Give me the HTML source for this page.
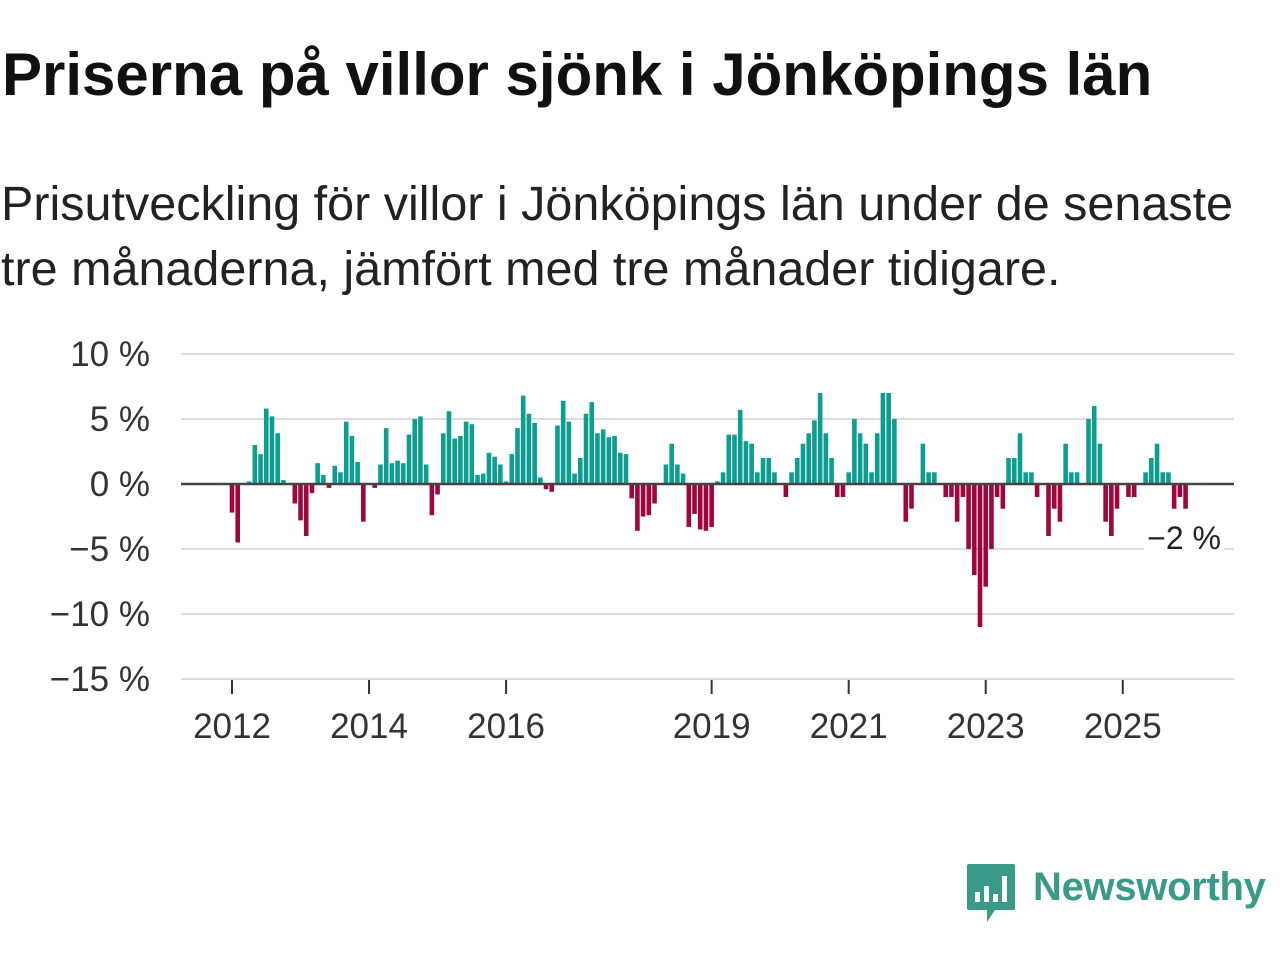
<!DOCTYPE html>
<html><head><meta charset="utf-8">
<style>
body{margin:0;background:#fff;width:1280px;height:960px;overflow:hidden;font-family:"Liberation Sans",sans-serif;}
#title{position:absolute;left:2px;top:40px;font-size:60px;font-weight:bold;color:#111;white-space:nowrap;}
#sub{position:absolute;left:1px;top:172px;font-size:48.5px;line-height:65px;color:#222;white-space:nowrap;}
#logo{position:absolute;left:965px;top:862px;}
#logotext{position:absolute;left:1033px;top:865px;font-size:40px;color:#3a9a88;font-weight:bold;letter-spacing:-0.3px}
</style></head><body>
<div id="title">Priserna på villor sjönk i Jönköpings län</div>
<div id="sub">Prisutveckling för villor i Jönköpings län under de senaste<br>tre månaderna, jämfört med tre månader tidigare.</div>
<svg id="chart" width="1280" height="960" style="position:absolute;left:0;top:0"></svg>
<svg id="logo" width="52" height="64" viewBox="0 0 52 64">
<path d="M2 4 Q2 2 4 2 H48 Q50 2 50 4 V46 Q50 48 48 48 H30 L22 60 V48 H4 Q2 48 2 46Z" fill="#3a9a88"/>
<rect x="10" y="30" width="5" height="10" fill="#fff"/><rect x="19" y="24" width="5" height="16" fill="#fff"/><rect x="28" y="32" width="5" height="8" fill="#fff"/><rect x="37" y="14" width="5" height="26" fill="#fff"/>
</svg>
<div id="logotext">Newsworthy</div>
<script>
const startYear = 2012;
const values = [-2.2,-4.5,0,0.2,3.0,2.3,5.8,5.2,3.9,0.3,0,-1.5,
-2.8,-4.0,-0.7,1.6,0.7,-0.3,1.4,0.9,4.8,3.7,1.7,-2.9,
0,-0.3,1.5,4.3,1.6,1.8,1.6,3.8,5.0,5.2,1.5,-2.4,
-0.8,3.9,5.6,3.5,3.7,4.8,4.6,0.7,0.8,2.4,2.1,1.5,
0.2,2.3,4.3,6.8,5.4,4.7,0.5,-0.4,-0.6,4.5,6.4,4.8,
0.8,2.0,5.4,6.3,3.9,4.2,3.6,3.7,2.4,2.3,-1.1,-3.6,
-2.5,-2.4,-1.5,0,1.5,3.1,1.5,0.8,-3.3,-2.3,-3.5,-3.6,
-3.3,0.2,0.9,3.8,3.8,5.7,3.3,3.1,0.9,2.0,2.0,0.9,
0,-1.0,0.9,2.0,3.1,3.9,4.9,7.0,3.9,2.0,-1.0,-1.0,
0.9,5.0,3.9,3.1,0.9,3.9,7.0,7.0,5.0,0,-2.9,-1.9,
0,3.1,0.9,0.9,0,-1.0,-1.0,-2.9,-1.0,-5.0,-7.0,-11.0,
-7.9,-5.0,-1.0,-1.9,2.0,2.0,3.9,0.9,0.9,-1.0,0,-4.0,
-1.9,-2.9,3.1,0.9,0.9,0,5.0,6.0,3.1,-2.9,-4.0,-1.9,
0,-1.0,-1.0,0,0.9,2.0,3.1,0.9,0.9,-1.9,-1.0,-1.9];
const yTicks = [10,5,0,-5,-10,-15];
const xTickYears = [2012,2014,2016,2019,2021,2023,2025];
const lastLabel = "−2 %";

const svg = document.getElementById('chart');
const NS = 'http://www.w3.org/2000/svg';
const y = v => 484 - v*13;
const x = i => 232 + i*5.71;
const xYear = yr => x((yr-startYear)*12);
function mk(t, a){const e=document.createElementNS(NS,t);for(const k in a)e.setAttribute(k,a[k]);svg.appendChild(e);return e;}
yTicks.forEach(t=>{
  if(t!==0){const g=mk('line',{x1:181,x2:1234,y1:y(t),y2:y(t),stroke:'#dcdcdc','stroke-width':2});
  
  }
  const l=mk('text',{x:150,y:y(t)+12,'text-anchor':'end','font-size':35,fill:'#333','font-family':'Liberation Sans, sans-serif'});
  l.textContent=(t<0?'−'+(-t):t)+' %';
  
  
});
values.forEach((v,i)=>{
  if(v===0)return;
  const r=mk('rect',{x:x(i)-2.3,width:4.6,y:Math.min(y(v),484),height:Math.abs(y(v)-484),fill:v>0?'#0c9e90':'#a0063b'});
  
  
});
const z=mk('line',{x1:181,x2:1234,y1:484,y2:484,stroke:'#444','stroke-width':2.5});


xTickYears.forEach(yr=>{
  const tk=mk('line',{x1:xYear(yr),x2:xYear(yr),y1:680,y2:694,stroke:'#333','stroke-width':2});
  
  
  const l=mk('text',{x:xYear(yr),y:738,'text-anchor':'middle','font-size':35,fill:'#333','font-family':'Liberation Sans, sans-serif'});
  l.textContent=yr;
  
  
});
const bg=mk('rect',{x:1144,y:520,width:80,height:34,fill:'#fff'});


const ll=mk('text',{x:1221,y:549,'text-anchor':'end','font-size':32,fill:'#222','font-family':'Liberation Sans, sans-serif'});
ll.textContent=lastLabel;


</script>
</body></html>
